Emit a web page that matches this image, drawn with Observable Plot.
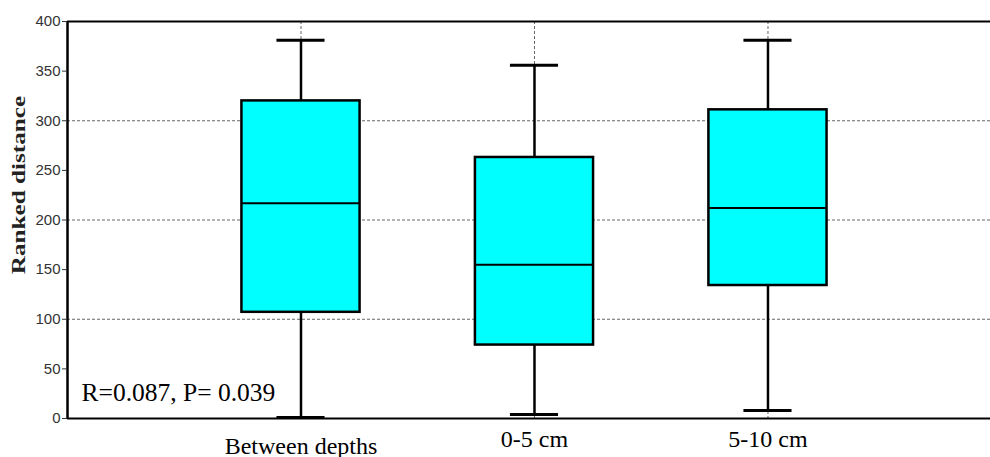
<!DOCTYPE html>
<html><head><meta charset="utf-8">
<script src="https://cdn.jsdelivr.net/npm/d3@7"></script>
<script src="https://cdn.jsdelivr.net/npm/@observablehq/plot@0.6"></script>
<style>body{margin:0;background:#fff;} svg{display:block;}</style>
</head><body><div id="chart"></div>
<script>
const categories = ["Between depths", "0-5 cm", "5-10 cm"];
const positions = [1, 2, 3];
const lowWhisker = [1, 4, 8];
const q1 = [107, 74, 134];
const median = [217, 155, 212];
const q3 = [320, 263, 311];
const highWhisker = [381, 356, 381];
const yTicks = [0, 50, 100, 150, 200, 250, 300, 350, 400];
const gridY = [100, 200, 300];
const annotation = "R=0.087, P= 0.039";

const rows = categories.map((c, i) => ({
  cat: c, pos: positions[i], lo: lowWhisker[i], q1: q1[i], med: median[i], q3: q3[i], hi: highWhisker[i]
}));
const boxHalf = 0.253, capHalf = 0.103;
const serif = "'Liberation Serif', 'Times New Roman', serif";

const chart = Plot.plot({
  width: 990, height: 457,
  marginLeft: 67, marginRight: 0, marginTop: 21, marginBottom: 39,
  x: {domain: [0, 3.953]},
  y: {domain: [0, 400]},
  style: {background: "#fff", overflow: "visible"},
  marks: [
    Plot.ruleY(gridY, {stroke: "#666", strokeWidth: 1, strokeDasharray: "3,2"}),
    Plot.ruleX(positions, {stroke: "#666", strokeWidth: 1, strokeDasharray: "3,2"}),
    Plot.ruleX(rows, {x: "pos", y1: "lo", y2: "q1", stroke: "#000", strokeWidth: 2.5}),
    Plot.ruleX(rows, {x: "pos", y1: "q3", y2: "hi", stroke: "#000", strokeWidth: 2.5}),
    Plot.ruleY(rows, {y: "lo", x1: d => d.pos - capHalf, x2: d => d.pos + capHalf, stroke: "#000", strokeWidth: 3}),
    Plot.ruleY(rows, {y: "hi", x1: d => d.pos - capHalf, x2: d => d.pos + capHalf, stroke: "#000", strokeWidth: 3}),
    Plot.rect(rows, {x1: d => d.pos - boxHalf, x2: d => d.pos + boxHalf, y1: "q1", y2: "q3", fill: "#00FFFF", stroke: "#000", strokeWidth: 2.5}),
    Plot.ruleY(rows, {y: "med", x1: d => d.pos - boxHalf, x2: d => d.pos + boxHalf, stroke: "#000", strokeWidth: 2}),
    Plot.ruleY([0, 400], {stroke: "#000", strokeWidth: 2}),
    Plot.ruleX([0], {stroke: "#000", strokeWidth: 2.5}),
    Plot.axisY({ticks: yTicks, tickSize: 5, tickPadding: 2, fontSize: 15, color: "#333",
      fontFamily: "'Liberation Sans', Arial, sans-serif", label: null}),
    Plot.axisX([2, 3], {tickSize: 0, tickPadding: 11, fontSize: 24, fontFamily: serif, color: "#000",
      tickFormat: d => categories[d - 1], label: null}),
    Plot.axisX([1], {tickSize: 0, tickPadding: 18, fontSize: 24, fontFamily: serif, color: "#000",
      tickFormat: d => categories[d - 1], label: null}),
    Plot.text([annotation], {frameAnchor: "bottom-left", textAnchor: "start", dx: 14, dy: -18,
      fontSize: 25.5, fontFamily: serif, fill: "#000"})
  ]
});
const svg = d3.select(chart);
svg.append("text")
  .attr("transform", "translate(25,185) rotate(-90) scale(1.4,1)")
  .attr("text-anchor", "middle")
  .attr("font-family", serif)
  .attr("font-weight", "bold")
  .attr("font-size", 18)
  .attr("fill", "#222")
  .text("Ranked distance");
document.getElementById("chart").appendChild(chart);
</script>
</body></html>
